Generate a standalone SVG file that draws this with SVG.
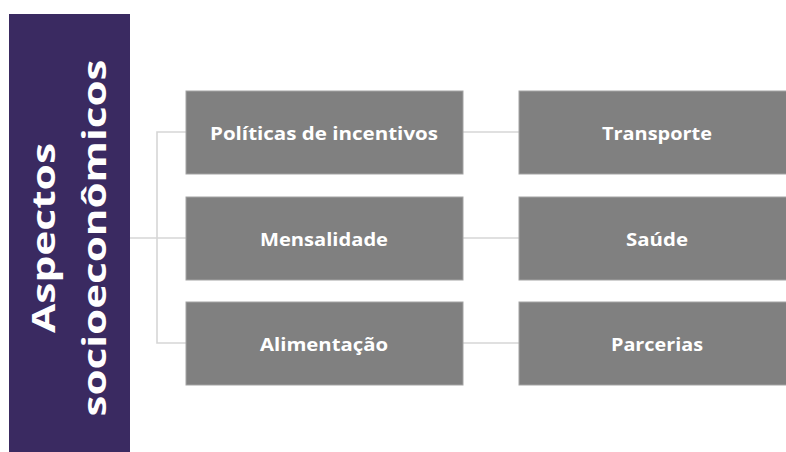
<svg xmlns="http://www.w3.org/2000/svg" width="786" height="452" viewBox="0 0 786 452">
<style>
.box{fill:#808080;stroke:#a3a3a3;stroke-width:1}
.lbl{font-family:"Open Sans","Liberation Sans",sans-serif;font-weight:700;font-size:18.5px;fill:#ffffff;text-anchor:middle}
.title{font-family:"Open Sans","Liberation Sans",sans-serif;font-weight:700;font-size:32.5px;fill:#ffffff;text-anchor:middle}
.conn{fill:none;stroke:#d6d6d6;stroke-width:1.6}
</style>
<rect width="786" height="452" fill="#ffffff"/>
<g id="connectors">
<path class="conn" d="M130 238 H186"/>
<path class="conn" d="M186 132 H157 V343 H186"/>
<path class="conn" d="M463 132 H519"/>
<path class="conn" d="M463 238 H519"/>
<path class="conn" d="M463 343 H519"/>
</g>
<g id="aspectos">
<rect x="9" y="14" width="121" height="440" fill="#3a2a61"/>
<text class="title" transform="translate(55,238) rotate(-90)" textLength="190" lengthAdjust="spacingAndGlyphs">Aspectos</text>
<text class="title" transform="translate(106,238) rotate(-90)" textLength="357" lengthAdjust="spacingAndGlyphs">socioeconômicos</text>
</g>
<g id="politicas">
<rect class="box" x="186" y="91" width="277" height="83"/>
<text class="lbl" x="324" y="140" textLength="228" lengthAdjust="spacingAndGlyphs">Políticas de incentivos</text>
</g>
<g id="mensalidade">
<rect class="box" x="186" y="197" width="277" height="83"/>
<text class="lbl" x="324" y="246" textLength="128" lengthAdjust="spacingAndGlyphs">Mensalidade</text>
</g>
<g id="alimentacao">
<rect class="box" x="186" y="302" width="277" height="83"/>
<text class="lbl" x="324" y="351" textLength="128" lengthAdjust="spacingAndGlyphs">Alimentação</text>
</g>
<g id="transporte">
<rect class="box" x="519" y="91" width="277" height="83"/>
<text class="lbl" x="657" y="140" textLength="110" lengthAdjust="spacingAndGlyphs">Transporte</text>
</g>
<g id="saude">
<rect class="box" x="519" y="197" width="277" height="83"/>
<text class="lbl" x="657" y="246" textLength="62" lengthAdjust="spacingAndGlyphs">Saúde</text>
</g>
<g id="parcerias">
<rect class="box" x="519" y="302" width="277" height="83"/>
<text class="lbl" x="657" y="351" textLength="92" lengthAdjust="spacingAndGlyphs">Parcerias</text>
</g>
</svg>
